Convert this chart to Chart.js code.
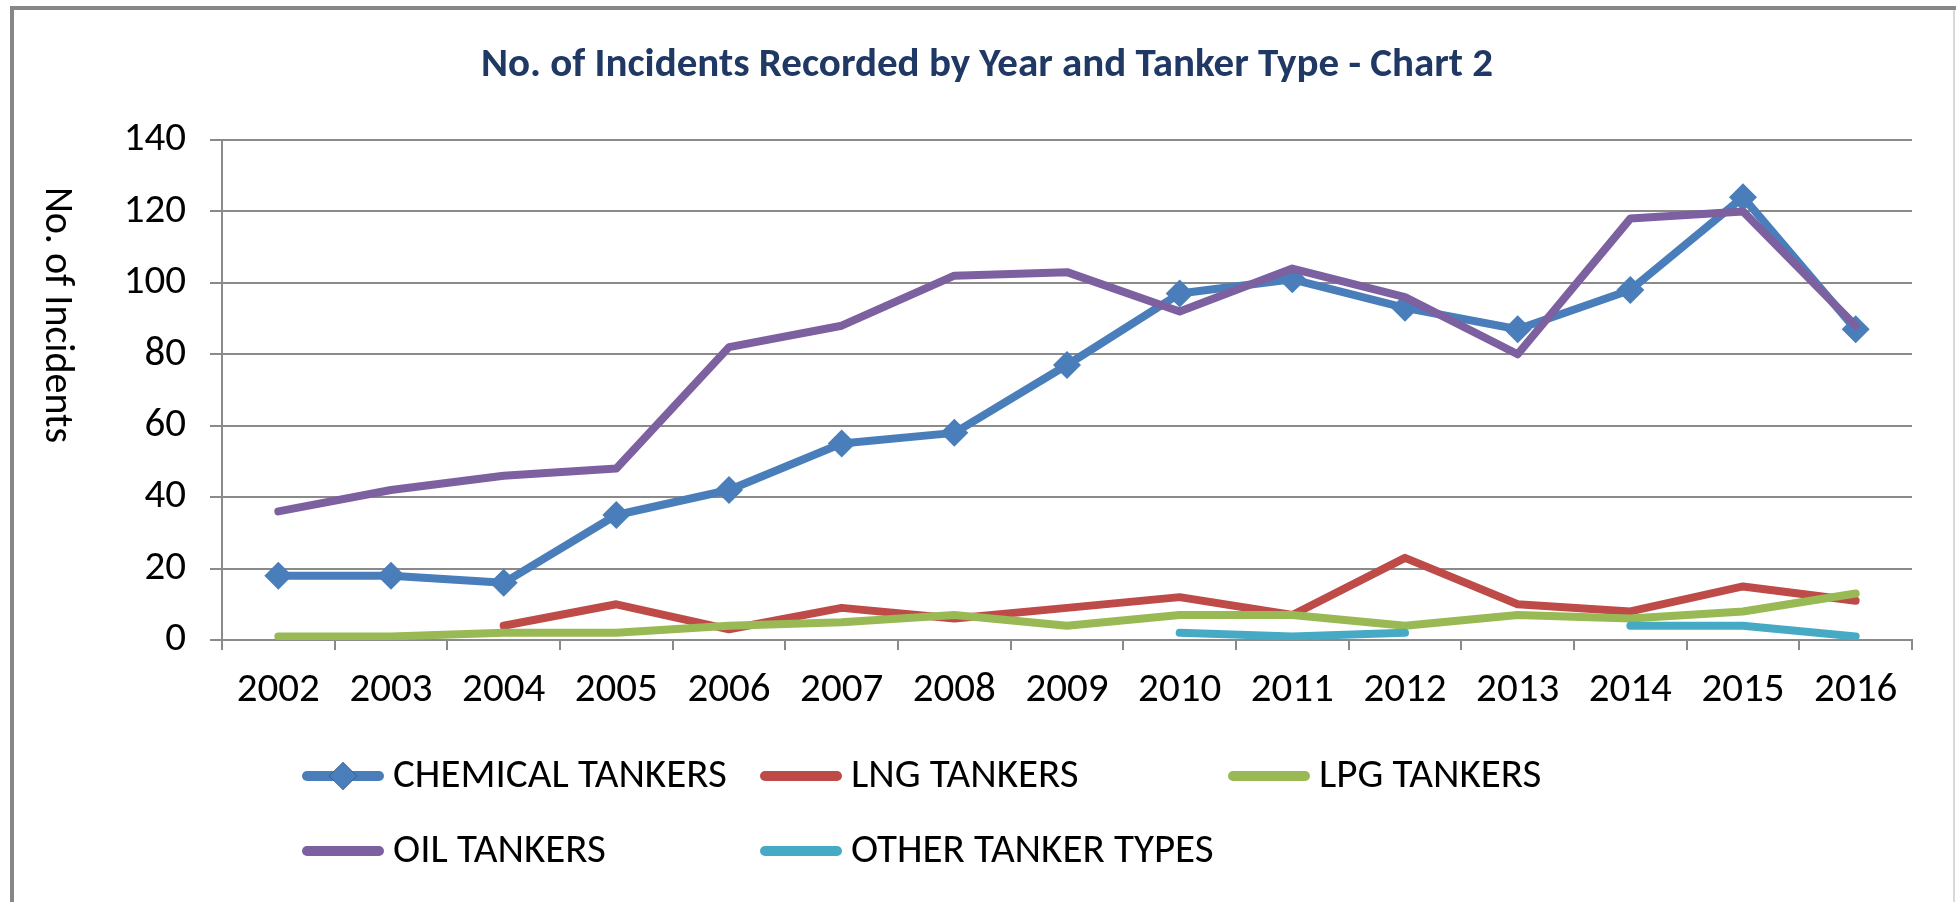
<!DOCTYPE html>
<html>
<head>
<meta charset="utf-8">
<script src="https://cdn.jsdelivr.net/npm/chart.js@4.4.1/dist/chart.umd.min.js"></script>
<style>
  html, body { margin: 0; padding: 0; background: #fff; }
  #wrap { position: relative; width: 1956px; height: 902px; }
</style>
</head>
<body>
<div id="wrap"><canvas id="c" width="1956" height="902"></canvas></div>
<script>
const YEARS = ['2002', '2003', '2004', '2005', '2006', '2007', '2008', '2009', '2010', '2011', '2012', '2013', '2014', '2015', '2016'];
const CHEMICAL = [18, 18, 16, 35, 42, 55, 58, 77, 97, 101, 93, 87, 98, 124, 87];
const LNG = [null, null, 4, 10, 3, 9, 6, 9, 12, 7, 23, 10, 8, 15, 11];
const LPG = [1, 1, 2, 2, 4, 5, 7, 4, 7, 7, 4, 7, 6, 8, 13];
const OIL = [36, 42, 46, 48, 82, 88, 102, 103, 92, 104, 96, 80, 118, 120, 88];
const OTHER = [null, null, null, null, null, null, null, null, 2, 1, 2, null, 4, 4, 1];
const Y_TICKS = [0, 20, 40, 60, 80, 100, 120, 140];

const TITLE = 'No. of Incidents Recorded by Year and Tanker Type - Chart 2';
const Y_TITLE = 'No. of Incidents';
const FONT = '"Carlito", "Liberation Sans Narrow", "Open Sans", sans-serif';
const GRID = '#8a8a8a';

function series(label, data, color, order, marker) {
  return {
    label, data, order,
    borderColor: color,
    backgroundColor: color,
    borderWidth: 8,
    borderJoinStyle: 'round',
    borderCapStyle: 'round',
    tension: 0,
    spanGaps: false,
    pointStyle: marker ? 'rectRot' : false,
    pointRadius: marker ? 14 : 0,
    pointBorderWidth: 0,
  };
}

// title, rotated y title, frame and legend drawn by hand (Excel layout)
const decor = {
  id: 'decor',
  beforeDraw(chart) {
    const ctx = chart.ctx;
    ctx.save();
    ctx.fillStyle = '#fff';
    ctx.fillRect(0, 0, chart.width, chart.height);
    ctx.fillStyle = '#878787';
    ctx.fillRect(10, 6, 1946, 4);
    ctx.fillRect(10, 6, 4, 896);
    ctx.fillStyle = '#d8d8d8';
    ctx.fillRect(1953, 10, 2, 892);
    ctx.restore();
  },
  afterDraw(chart) {
    const ctx = chart.ctx;
    ctx.save();
    ctx.fillStyle = '#1f3864';
    ctx.font = 'bold 41px ' + FONT;
    ctx.textAlign = 'center';
    ctx.textBaseline = 'middle';
    ctx.fillText(TITLE, 987, 66);

    ctx.fillStyle = '#000';
    ctx.font = '40px ' + FONT;
    ctx.translate(56, 315);
    ctx.rotate(Math.PI / 2);
    ctx.fillText(Y_TITLE, 0, 0);
    ctx.restore();

    // legend
    const slots = [[303, 776], [761, 776], [1229, 776], [303, 851], [761, 851]];
    ctx.save();
    ctx.font = '41px ' + FONT;
    ctx.textBaseline = 'middle';
    ctx.textAlign = 'left';
    chart.data.datasets.forEach((ds, i) => {
      const [x, y] = slots[i];
      ctx.strokeStyle = ds.borderColor;
      ctx.lineWidth = 10;
      ctx.lineCap = 'round';
      ctx.beginPath();
      ctx.moveTo(x + 4, y);
      ctx.lineTo(x + 76, y);
      ctx.stroke();
      if (ds.pointStyle) {
        Chart.helpers.drawPoint(ctx, { pointStyle: ds.pointStyle, radius: ds.pointRadius, borderWidth: 0 }, x + 40, y);
        ctx.fillStyle = ds.backgroundColor;
        ctx.fill();
      }
      ctx.fillStyle = '#000';
      ctx.fillText(ds.label, x + 90, y + 1);
    });
    ctx.restore();
  },
};

new Chart(document.getElementById('c'), {
  type: 'line',
  data: {
    labels: YEARS,
    datasets: [
      series('CHEMICAL TANKERS', CHEMICAL, '#4a7ebb', 4, true),
      series('LNG TANKERS', LNG, '#be4b48', 3, false),
      series('LPG TANKERS', LPG, '#98b954', 2, false),
      series('OIL TANKERS', OIL, '#7d60a0', 1, false),
      series('OTHER TANKER TYPES', OTHER, '#46aac5', 0, false),
    ],
  },
  options: {
    responsive: false,
    animation: false,
    layout: { padding: { left: 0, top: 140, right: 44, bottom: 0 } },
    plugins: { legend: { display: false }, title: { display: false }, tooltip: { enabled: false } },
    scales: {
      x: {
        offset: true,
        grid: { offset: true, drawOnChartArea: false, drawTicks: true, tickLength: 10, color: GRID, lineWidth: 2 },
        border: { color: GRID, width: 2 },
        ticks: { color: '#000', font: { family: FONT, size: 41 }, padding: 16, maxRotation: 0, autoSkip: false },
        afterFit(scale) { scale.height = 262; },
      },
      y: {
        min: 0,
        max: 140,
        afterBuildTicks(scale) { scale.ticks = Y_TICKS.map((v) => ({ value: v })); },
        grid: { color: GRID, lineWidth: 2, tickLength: 12 },
        border: { color: GRID, width: 2 },
        ticks: { color: '#000', font: { family: FONT, size: 41 }, padding: 24 },
        afterFit(scale) { scale.width = 222; },
      },
    },
  },
  plugins: [decor],
});
</script>
</body>
</html>
